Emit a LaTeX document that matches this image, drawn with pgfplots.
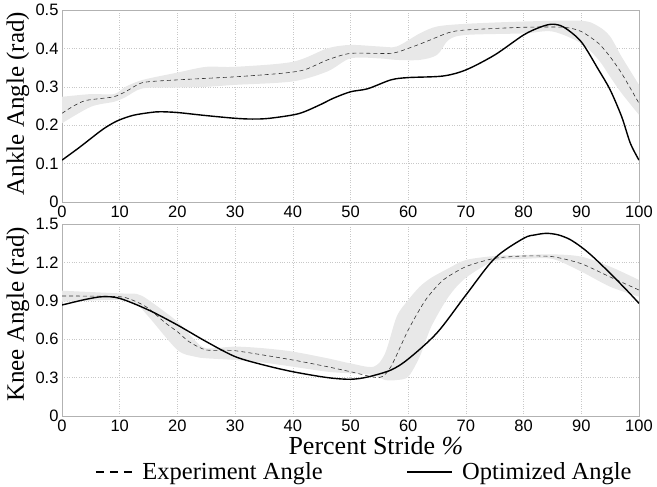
\documentclass[border=0pt]{standalone}
\usepackage{pgfplots}
\pgfplotsset{compat=1.18}
\usepgfplotslibrary{fillbetween}
\usepackage{fontspec}
\setmainfont{Liberation Serif}
\setsansfont{Liberation Sans}

\definecolor{bandgray}{RGB}{232,232,232}
\definecolor{gridgray}{RGB}{200,200,200}

\pgfplotsset{
  stride/.style={
    scale only axis, width=577bp, height=192bp,
    xmin=0, xmax=100, xtick={0,10,...,100},
    axis line style={draw=gray!60, line width=0.4bp},
    major tick length=0pt,
    grid=major,
    major grid style={draw=gridgray, dotted, line width=0.5bp},
    ticklabel style={font=\sffamily\fontsize{16.5bp}{18bp}\selectfont},
    /pgf/number format/assume math mode=true,
    y tick label style={/pgf/number format/fixed, /pgf/number format/precision=1},
    label style={font=\fontsize{25bp}{27bp}\selectfont},
  },
  expline/.style={draw=black!80, dash pattern=on 4bp off 3bp, line width=0.6bp, smooth, tension=0.4},
  optline/.style={draw=black, line width=1.4bp, smooth},
  legdash/.style={draw=black, line width=1.3bp, dash pattern=on 8bp off 6bp,
    legend image code/.code={\draw[##1] (0bp,0bp) -- (37bp,0bp);}},
  legsolid/.style={draw=black, line width=1.4bp,
    legend image code/.code={\draw[##1] (0bp,0bp) -- (45bp,0bp);}},
}

\begin{document}
\begin{tikzpicture}

% ankle
\begin{axis}[stride, at={(62bp,285bp)}, anchor=south west,
  ymin=0, ymax=0.5, ytick={0,0.1,...,0.5},
  ylabel={Ankle Angle (rad)},
  ylabel style={at={(axis description cs:-0.066,0.513)}, anchor=base}]
\addplot[name path=aup, draw=none, smooth, tension=0.5, forget plot] coordinates {
(0,0.274)(5,0.281)(9,0.281)(11,0.3)(14,0.318)(20,0.337)(25,0.352)(30,0.352)(40,0.365)(46,0.4)(50,0.409)(55,0.405)(58,0.405)(62,0.439)(65,0.457)(70,0.464)(80,0.47)(90,0.472)(93,0.457)(95,0.431)(97,0.378)(100,0.305)};
\addplot[name path=alo, draw=none, smooth, tension=0.5, forget plot] coordinates {
(0,0.205)(5,0.248)(9,0.261)(11,0.273)(14,0.296)(20,0.298)(25,0.3)(30,0.305)(40,0.314)(46,0.34)(50,0.374)(55,0.374)(58,0.37)(62,0.37)(65,0.383)(67,0.422)(70,0.435)(80,0.439)(85,0.444)(90,0.413)(93,0.37)(95,0.326)(97,0.283)(100,0.227)};
\addplot[fill=bandgray, draw=none, forget plot] fill between[of=aup and alo];
\addplot[expline] coordinates {
(0,0.231)(2,0.25)(4,0.264)(7,0.27)(9,0.274)(11,0.287)(14,0.311)(20,0.318)(30,0.326)(38,0.335)(42,0.344)(46,0.37)(50,0.387)(57,0.387)(60,0.4)(63,0.417)(67,0.441)(70,0.448)(80,0.455)(87,0.455)(90,0.444)(93,0.413)(95,0.378)(97,0.335)(100,0.257)};
\addplot[optline] coordinates {
(0,0.109)(3,0.142)(6.6,0.184)(8.3,0.201)(10,0.214)(12.4,0.226)(15.3,0.233)(17,0.235)(20,0.233)(25,0.225)(30,0.218)(33,0.216)(36,0.218)(41,0.23)(44.7,0.253)(47,0.27)(50,0.287)(53,0.295)(57,0.318)(60,0.324)(66,0.328)(70,0.344)(75,0.383)(80,0.435)(83,0.456)(85,0.463)(87,0.455)(90,0.417)(93,0.344)(95,0.292)(97,0.222)(98.5,0.153)(100,0.109)};
\end{axis}

% knee
\begin{axis}[stride, at={(62bp,71bp)}, anchor=south west,
  ymin=0, ymax=1.5, ytick={0,0.3,...,1.5},
  ylabel={Knee Angle (rad)},
  ylabel style={at={(axis description cs:-0.066,0.529)}, anchor=base},
  xlabel={Percent Stride \textit{\%}},
  xlabel style={at={(axis description cs:0.544,-0.199)}, anchor=base, font=\fontsize{26bp}{28bp}\selectfont},
  legend columns=2,
  legend style={at={(axis description cs:0.052,-0.292)}, anchor=west, draw=none, fill=none,
    font=\fontsize{24.5bp}{26bp}\selectfont,
    /tikz/every odd column/.append style={column sep=7bp},
    /tikz/every even column/.append style={column sep=82bp}}]
\addplot[name path=kup, draw=none, smooth, tension=0.5, forget plot] coordinates {
(0,0.979)(10,0.958)(13,0.953)(15,0.906)(20,0.737)(23,0.594)(25,0.529)(30,0.542)(35,0.529)(40,0.503)(46,0.451)(50,0.411)(54,0.385)(56,0.49)(58,0.776)(60,0.906)(62,1.01)(64,1.08)(67,1.154)(70,1.219)(75,1.25)(80,1.258)(85,1.263)(90,1.245)(95,1.167)(100,1.0625)};
\addplot[name path=klo, draw=none, smooth, tension=0.5, forget plot] coordinates {
(0,0.893)(10,0.906)(13,0.867)(15,0.776)(20,0.516)(23,0.464)(25,0.451)(30,0.4375)(35,0.417)(40,0.385)(46,0.346)(50,0.333)(54,0.32)(56,0.281)(58,0.281)(60,0.307)(62,0.464)(64,0.698)(67,0.932)(70,1.08)(75,1.211)(80,1.227)(85,1.227)(90,1.128)(95,1.01)(100,0.932)};
\addplot[fill=bandgray, draw=none, forget plot] fill between[of=kup and klo];
\addplot[expline, forget plot] coordinates {
(0,0.9375)(10,0.932)(13,0.89)(15,0.84)(18,0.724)(20,0.659)(22,0.581)(25,0.516)(30,0.51)(40,0.4375)(46,0.385)(50,0.346)(55,0.30)(57,0.385)(60,0.672)(63,0.906)(66,1.06)(70,1.167)(75,1.232)(80,1.25)(85,1.245)(90,1.19)(95,1.086)(100,0.984)};
\addplot[optline, forget plot] coordinates {
(0,0.867)(4,0.91)(7,0.932)(10,0.919)(15,0.828)(20,0.711)(25,0.581)(30,0.464)(35,0.398)(40,0.346)(46,0.30)(50,0.287)(53,0.305)(57,0.359)(60,0.445)(65,0.65)(70,0.945)(75,1.232)(80,1.388)(82,1.415)(84,1.427)(86,1.415)(88,1.38)(90,1.32)(92,1.245)(95,1.115)(98,0.977)(100,0.88)};
\addlegendimage{legdash}
\addlegendentry{Experiment Angle}
\addlegendimage{legsolid}
\addlegendentry{Optimized Angle}
\end{axis}
\path (0,0) rectangle (657bp,487bp);
\end{tikzpicture}
\end{document}
